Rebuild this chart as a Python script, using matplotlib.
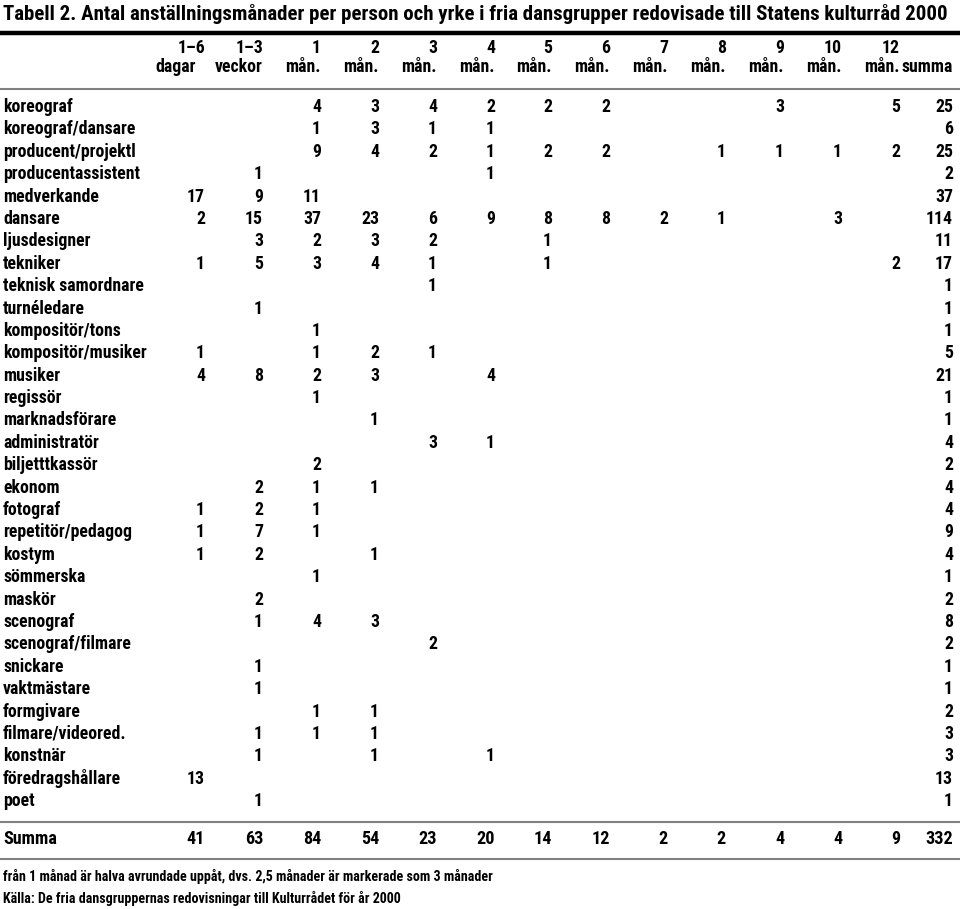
import matplotlib
matplotlib.use("Agg")
import matplotlib.pyplot as plt
from matplotlib import font_manager as fm

title = "Tabell 2. Antal anställningsmånader per person och yrke i fria dansgrupper redovisade till Statens kulturråd 2000"
header_top = ["1–6", "1–3", "1", "2", "3", "4", "5", "6", "7", "8", "9", "10", "12", ""]
header_bottom = ["dagar", "veckor", "mån.", "mån.", "mån.", "mån.", "mån.", "mån.",
                 "mån.", "mån.", "mån.", "mån.", "mån.", "summa"]

occupations = ["koreograf", "koreograf/dansare", "producent/projektl", "producentassistent",
               "medverkande", "dansare", "ljusdesigner", "tekniker", "teknisk samordnare",
               "turnéledare", "kompositör/tons", "kompositör/musiker", "musiker", "regissör",
               "marknadsförare", "administratör", "biljetttkassör", "ekonom", "fotograf",
               "repetitör/pedagog", "kostym", "sömmerska", "maskör", "scenograf",
               "scenograf/filmare", "snickare", "vaktmästare", "formgivare",
               "filmare/videored.", "konstnär", "föredragshållare", "poet"]

_ = None
values = [
    [_, _, 4, 3, 4, 2, 2, 2, _, _, 3, _, 5, 25],
    [_, _, 1, 3, 1, 1, _, _, _, _, _, _, _, 6],
    [_, _, 9, 4, 2, 1, 2, 2, _, 1, 1, 1, 2, 25],
    [_, 1, _, _, _, 1, _, _, _, _, _, _, _, 2],
    [17, 9, 11, _, _, _, _, _, _, _, _, _, _, 37],
    [2, 15, 37, 23, 6, 9, 8, 8, 2, 1, _, 3, _, 114],
    [_, 3, 2, 3, 2, _, 1, _, _, _, _, _, _, 11],
    [1, 5, 3, 4, 1, _, 1, _, _, _, _, _, 2, 17],
    [_, _, _, _, 1, _, _, _, _, _, _, _, _, 1],
    [_, 1, _, _, _, _, _, _, _, _, _, _, _, 1],
    [_, _, 1, _, _, _, _, _, _, _, _, _, _, 1],
    [1, _, 1, 2, 1, _, _, _, _, _, _, _, _, 5],
    [4, 8, 2, 3, _, 4, _, _, _, _, _, _, _, 21],
    [_, _, 1, _, _, _, _, _, _, _, _, _, _, 1],
    [_, _, _, 1, _, _, _, _, _, _, _, _, _, 1],
    [_, _, _, _, 3, 1, _, _, _, _, _, _, _, 4],
    [_, _, 2, _, _, _, _, _, _, _, _, _, _, 2],
    [_, 2, 1, 1, _, _, _, _, _, _, _, _, _, 4],
    [1, 2, 1, _, _, _, _, _, _, _, _, _, _, 4],
    [1, 7, 1, _, _, _, _, _, _, _, _, _, _, 9],
    [1, 2, _, 1, _, _, _, _, _, _, _, _, _, 4],
    [_, _, 1, _, _, _, _, _, _, _, _, _, _, 1],
    [_, 2, _, _, _, _, _, _, _, _, _, _, _, 2],
    [_, 1, 4, 3, _, _, _, _, _, _, _, _, _, 8],
    [_, _, _, _, 2, _, _, _, _, _, _, _, _, 2],
    [_, 1, _, _, _, _, _, _, _, _, _, _, _, 1],
    [_, 1, _, _, _, _, _, _, _, _, _, _, _, 1],
    [_, _, 1, 1, _, _, _, _, _, _, _, _, _, 2],
    [_, 1, 1, 1, _, _, _, _, _, _, _, _, _, 3],
    [_, 1, _, 1, _, 1, _, _, _, _, _, _, _, 3],
    [13, _, _, _, _, _, _, _, _, _, _, _, _, 13],
    [_, 1, _, _, _, _, _, _, _, _, _, _, _, 1],
]
totals_label = "Summa"
totals = [41, 63, 84, 54, 23, 20, 14, 12, 2, 2, 4, 4, 9, 332]
footnote = "från 1 månad är halva avrundade uppåt, dvs. 2,5 månader är markerade som 3 månader"
source = "Källa: De fria dansgruppernas redovisningar till Kulturrådet för år 2000"

_names = {f.name for f in fm.fontManager.ttflist}
FONT = "Liberation Sans"
for cand in ["Liberation Sans Narrow", "Nimbus Sans Narrow", "Roboto Condensed",
             "Archivo Narrow", "PT Sans Narrow", "Fira Sans Condensed"]:
    if cand in _names:
        FONT = cand
        break
FAM = [FONT, "DejaVu Sans"]
BODY_W = "bold"

fig = plt.figure(figsize=(9.6, 9.09), dpi=100)
ax = fig.add_axes([0, 0, 1, 1])
ax.set_xlim(0, 960)
ax.set_ylim(909, 0)
ax.axis("off")
renderer = fig.canvas.get_renderer()


def fit(text, target_w, weight="bold", base=10.0):
    t = ax.text(0, 0, text, fontsize=base, family=FAM, fontweight=weight)
    w = t.get_window_extent(renderer).width
    t.remove()
    return base * target_w / w


title_fs = fit(title, 948)
body_fs = fit("producentassistent", 137, BODY_W)
sum_fs = fit("Summa", 54, BODY_W)
note_fs = fit(footnote, 490, BODY_W)

col_right = [205, 263, 321, 379, 437, 495, 552, 610, 668, 726, 784, 842, 900, 953]
header_shift = [-9, 0, 0, 0, 0, 0, 0, 0, 0, 0, 0, 0, 0, 0]
label_x = 3

ax.text(3, 14, title, fontsize=title_fs, fontweight="bold", family=FAM, va="center", ha="left")
ax.plot([0, 960], [33, 33], color="black", lw=3.2, solid_capstyle="butt")

for x, s, t, b in zip(col_right, header_shift, header_top, header_bottom):
    ax.text(x, 48, t, fontsize=body_fs, fontweight=BODY_W, family=FAM, ha="right", va="center")
    ax.text(x + s, 67, b, fontsize=body_fs, fontweight=BODY_W, family=FAM, ha="right", va="center")

ax.plot([0, 960], [89, 89], color="#808080", lw=1.5)

y0, dy = 107, 22.39
for i, (name, row) in enumerate(zip(occupations, values)):
    y = y0 + i * dy
    ax.text(label_x, y, name, fontsize=body_fs, fontweight=BODY_W, family=FAM, ha="left", va="center")
    for x, v in zip(col_right, row):
        if v is not None:
            ax.text(x, y, str(v), fontsize=body_fs, fontweight=BODY_W, family=FAM, ha="right", va="center")

ax.plot([0, 960], [822, 822], color="#808080", lw=1.5)
ax.text(label_x, 839, totals_label, fontsize=sum_fs, fontweight=BODY_W, family=FAM, ha="left", va="center")
for x, v in zip(col_right, totals):
    ax.text(x, 839, str(v), fontsize=sum_fs, fontweight=BODY_W, family=FAM, ha="right", va="center")
ax.plot([0, 960], [859, 859], color="#808080", lw=1.5)

ax.text(3, 876, footnote, fontsize=note_fs, fontweight=BODY_W, family=FAM, ha="left", va="center")
ax.text(3, 899, source, fontsize=note_fs, fontweight=BODY_W, family=FAM, ha="left", va="center")

fig.savefig("out.png", dpi=100)
